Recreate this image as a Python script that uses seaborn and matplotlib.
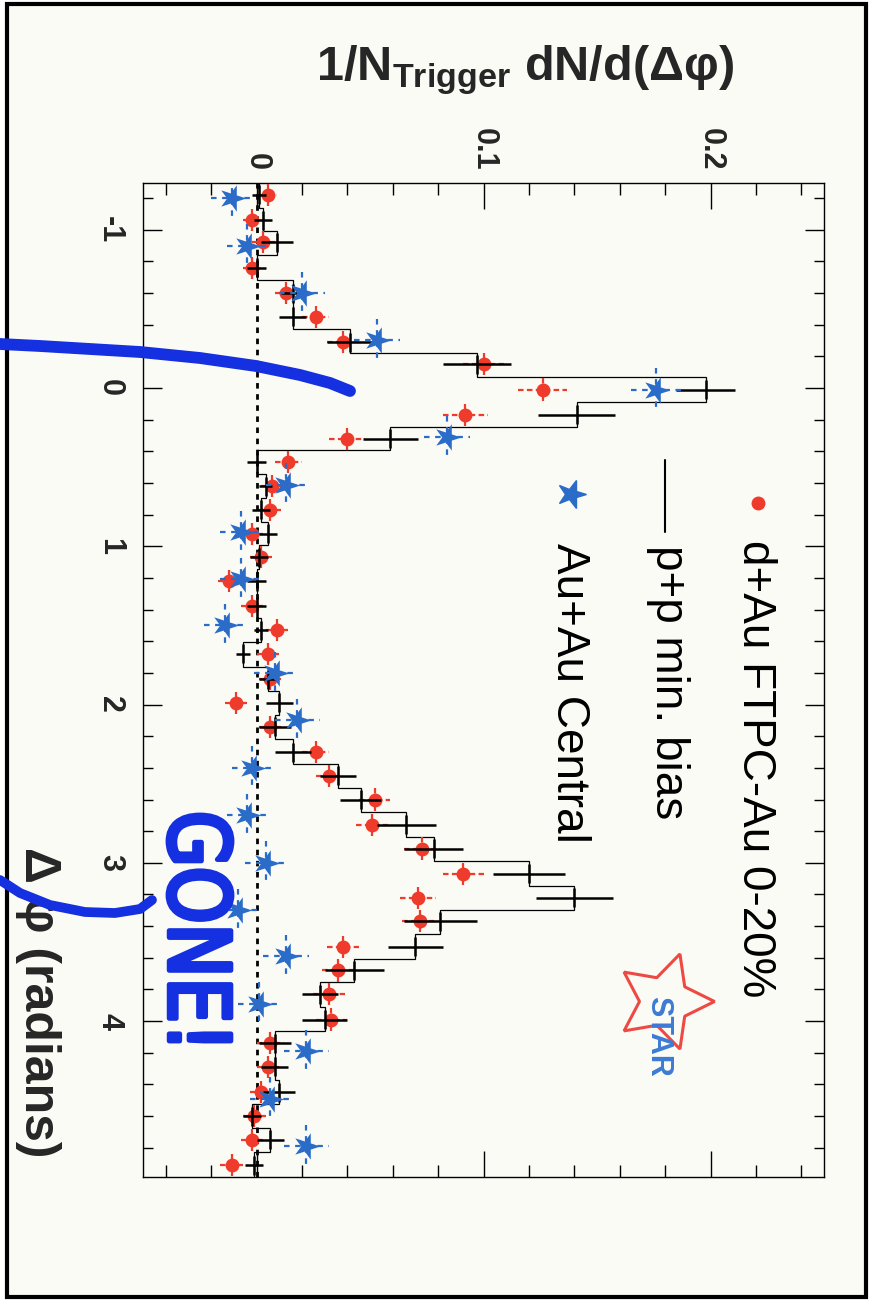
import numpy as np
import pandas as pd
import seaborn as sns
import matplotlib.pyplot as plt
from matplotlib.ticker import MultipleLocator
from matplotlib.markers import MarkerStyle
from matplotlib.transforms import Affine2D
from matplotlib.textpath import TextPath
from matplotlib.font_manager import FontProperties
from matplotlib.patches import PathPatch, Rectangle
from matplotlib.lines import Line2D

W, H, DPI = 874, 1304, 100
BG = '#fbfbf5'
RED = '#ef3b2c'
BLUE = '#2b6cc9'
PEN = '#1530e0'

# bin centres, delta phi (radians)
dphi = [-1.22, -1.06, -0.92, -0.76, -0.60, -0.45, -0.29, -0.15, 0.01, 0.17,
        0.32, 0.47, 0.62, 0.77, 0.92, 1.07, 1.22, 1.38, 1.53, 1.68,
        1.84, 1.99, 2.14, 2.30, 2.45, 2.60, 2.76, 2.91, 3.07, 3.22,
        3.37, 3.53, 3.68, 3.83, 3.99, 4.14, 4.29, 4.45, 4.60, 4.75, 4.91]

# d+Au FTPC-Au 0-20%
dau = [0.005, -0.002, 0.003, -0.002, 0.013, 0.026, 0.038, 0.100, 0.126, 0.092,
       0.040, 0.014, 0.007, 0.006, -0.002, 0.002, -0.012, -0.002, 0.009, 0.005,
       0.006, -0.009, 0.006, 0.026, 0.032, 0.052, 0.051, 0.073, 0.091, 0.071,
       0.072, 0.038, 0.036, 0.032, 0.033, 0.006, 0.005, 0.002, -0.001, -0.002, -0.011]
dau_err = [0.004, 0.004, 0.005, 0.004, 0.005, 0.006, 0.007, 0.009, 0.011, 0.010,
           0.008, 0.006, 0.005, 0.005, 0.005, 0.005, 0.005, 0.005, 0.005, 0.005,
           0.005, 0.005, 0.005, 0.006, 0.006, 0.007, 0.007, 0.008, 0.009, 0.008,
           0.008, 0.007, 0.007, 0.007, 0.007, 0.006, 0.005, 0.005, 0.005, 0.005, 0.005]

# p+p min. bias
pp = [0.001, 0.003, 0.009, 0.000, 0.016, 0.016, 0.041, 0.097, 0.198, 0.141,
      0.059, 0.000, 0.004, 0.002, 0.005, 0.001, 0.000, 0.000, 0.002, -0.006,
      0.005, 0.010, 0.008, 0.016, 0.036, 0.046, 0.066, 0.078, 0.120, 0.140,
      0.081, 0.070, 0.043, 0.028, 0.030, 0.008, 0.008, 0.010, -0.002, 0.006, -0.001]
pp_err = [0.003, 0.004, 0.007, 0.004, 0.005, 0.006, 0.010, 0.015, 0.013, 0.017,
          0.012, 0.004, 0.003, 0.004, 0.004, 0.004, 0.004, 0.004, 0.003, 0.003,
          0.004, 0.006, 0.007, 0.008, 0.008, 0.009, 0.013, 0.013, 0.016, 0.017,
          0.016, 0.012, 0.013, 0.008, 0.010, 0.007, 0.006, 0.007, 0.004, 0.006, 0.004]

# Au+Au central
auau_dphi = [-1.20, -0.90, -0.60, -0.30, 0.01, 0.31, 0.61, 0.91, 1.21, 1.50,
             1.80, 2.10, 2.40, 2.70, 3.00, 3.30, 3.59, 3.89, 4.19, 4.49, 4.79]
auau = [-0.011, -0.004, 0.020, 0.053, 0.176, 0.084, 0.013, -0.007, -0.007, -0.014,
        0.008, 0.018, -0.002, -0.004, 0.004, -0.008, 0.013, 0.001, 0.022, 0.006, 0.022]
auau_err = [0.009, 0.009, 0.010, 0.010, 0.011, 0.010, 0.009, 0.009, 0.009, 0.009,
            0.009, 0.010, 0.009, 0.009, 0.009, 0.009, 0.010, 0.009, 0.010, 0.009, 0.010]

dphi_ticks = [-1, 0, 1, 2, 3, 4]
dphi_ticklabels = ['-1', '0', '1', '2', '3', '4']
dn_ticks = [0, 0.1, 0.2]
dn_ticklabels = ['0', '0.1', '0.2']

sns.set_theme(style='ticks')
plt.rcParams['font.family'] = ['Liberation Sans', 'DejaVu Sans']
plt.rcParams['mathtext.fontset'] = 'custom'
plt.rcParams['mathtext.rm'] = 'Liberation Sans'
plt.rcParams['mathtext.bf'] = 'Liberation Sans:bold'
plt.rcParams['mathtext.it'] = 'Liberation Sans:italic'

fig = plt.figure(figsize=(W / DPI, H / DPI), dpi=DPI, facecolor='white')
px = Affine2D().scale(1 / DPI) + fig.dpi_scale_trans


def fx(x):
    return x / W


def fy(y):
    return 1 - y / H


fig.add_artist(Rectangle((7, H - 1297), 859, 1293, transform=px,
                         facecolor=BG, edgecolor='black', lw=3, zorder=-1))

ax = fig.add_axes([fx(143), fy(1177), (824 - 143) / W, (1177 - 183) / H])
ax.set_facecolor(BG)

red_df = pd.DataFrame({'dn': dau, 'dphi': dphi})
blue_df = pd.DataFrame({'dn': auau, 'dphi': auau_dphi})

# zero line
ax.axvline(0, color='black', lw=2, ls=(0, (2, 2)), zorder=1.5)

# p+p histogram
c = np.array(dphi)
mid = (c[:-1] + c[1:]) / 2
edges = np.concatenate([[c[0] - (mid[0] - c[0])], mid, [c[-1] + (c[-1] - mid[-1])]])
ax.stairs(pp, edges, orientation='horizontal', baseline=None, color='black', lw=0.9, zorder=2)

# d+Au
eb = ax.errorbar(dau, dphi, xerr=dau_err, yerr=0.07, fmt='none', ecolor=RED, elinewidth=1.6, zorder=3)
for lc in eb[2]:
    lc.set_linestyle((0, (2.5, 1.5)))
sns.scatterplot(data=red_df, x='dn', y='dphi', ax=ax, color=RED, s=100, linewidth=0, zorder=4, legend=False)

# p+p points
ax.errorbar(pp, dphi, xerr=pp_err, yerr=0.06, fmt='none', ecolor='black', elinewidth=1.8, zorder=5)

# Au+Au
star = MarkerStyle('*', transform=Affine2D().rotate_deg(-90))
eb = ax.errorbar(auau, auau_dphi, xerr=auau_err, yerr=0.135, fmt='none', ecolor=BLUE, elinewidth=1.6, zorder=6)
for lc in eb[2]:
    lc.set_linestyle((0, (2.5, 2.5)))
sns.scatterplot(data=blue_df, x='dn', y='dphi', ax=ax, color=BLUE, marker=star, s=400, linewidth=0, zorder=7, legend=False)

ax.set_xlim(-0.05, 0.25)
ax.set_ylim(4.985, -1.295)
ax.set_xlabel('')
ax.set_ylabel('')

ax.set_xticks(dn_ticks)
ax.set_xticklabels(dn_ticklabels, rotation=270, fontsize=22, fontweight='bold')
ax.set_yticks(dphi_ticks)
ax.set_yticklabels(dphi_ticklabels, rotation=270, fontsize=22, fontweight='bold', va='center')
ax.xaxis.set_minor_locator(MultipleLocator(0.02))
ax.yaxis.set_minor_locator(MultipleLocator(0.2))
ax.tick_params(axis='x', which='both', top=True, bottom=True, labeltop=True, labelbottom=False,
               direction='in', width=1, color='black', pad=9)
ax.tick_params(axis='x', which='major', length=19)
ax.tick_params(axis='x', which='minor', length=8.5)
ax.tick_params(axis='y', which='both', left=True, right=True, direction='in', width=1, color='black', pad=13)
ax.tick_params(axis='y', which='major', length=14)
ax.tick_params(axis='y', which='minor', length=7)
for s in ax.spines.values():
    s.set_linewidth(1)
    s.set_color('black')

# legend drawn by hand, rotated with the page
ax.plot([0.903], [0.678], 'o', color=RED, ms=9, transform=ax.transAxes, clip_on=False)
ax.plot([0.7665, 0.7665], [0.7213, 0.6489], color='black', lw=1.5, transform=ax.transAxes)
ax.plot([0.6285], [0.6871], marker=star, color=BLUE, ms=21, ls='none', transform=ax.transAxes)
legend_labels = ['d+Au FTPC-Au 0-20%', 'p+p min. bias', 'Au+Au Central']
for lx, ly, lab in zip([0.881, 0.7533, 0.608], [0.6408, 0.6358, 0.6378], legend_labels):
    ax.text(lx, ly, lab, transform=ax.transAxes, rotation=270, rotation_mode='anchor',
            ha='left', va='baseline', fontsize=33, color='black')

# STAR logo
ax.plot([0.765], [0.177], marker=(5, 1, -90), ms=72, mfc='none', mec='#ee4a44', mew=2.2,
        ls='none', transform=ax.transAxes)
ax.text(0.7562, 0.1419, 'STAR', transform=ax.transAxes, rotation=270, ha='center', va='center',
        fontsize=22, fontweight='bold', color='#3d7bd4')

# axis titles
fig.text(fx(316), fy(80), r'$\mathbf{1/N_{Trigger}\ dN/d(Δφ)}$', fontsize=35, ha='left', va='baseline')
fig.text(fx(25), fy(847), 'Δ φ (radians)', rotation=270, rotation_mode='anchor',
         ha='left', va='baseline', fontsize=36, fontweight='bold')

# hand-drawn marks
arc1 = [(0, 344), (40, 346), (90, 349), (140, 352), (200, 358), (256, 366), (300, 375), (330, 383), (350, 391)]
arc2 = [(0, 880), (20, 893), (50, 905), (85, 912), (115, 913), (140, 909), (152, 900)]
for pts, lw in [(arc1, 8.5), (arc2, 7)]:
    xs = [p[0] for p in pts]
    ys = [H - p[1] for p in pts]
    fig.add_artist(Line2D(xs, ys, transform=px, color=PEN, lw=lw, solid_capstyle='round', zorder=10))

tp = TextPath((0, 0), 'GONE!', size=1, prop=FontProperties(family='DejaVu Sans'))
ext = tp.get_extents()
L, Hh = 226, 64
tr = (Affine2D().translate(-ext.x0, -ext.y0).scale(L / ext.width, Hh / ext.height)
      .rotate_deg(-90).translate(168, H - 815))
fig.add_artist(PathPatch(tr.transform_path(tp), transform=px, facecolor=PEN, edgecolor=PEN,
                         lw=3.5, joinstyle='round', capstyle='round', zorder=10))

fig.savefig('out.png', dpi=DPI, facecolor='white')
